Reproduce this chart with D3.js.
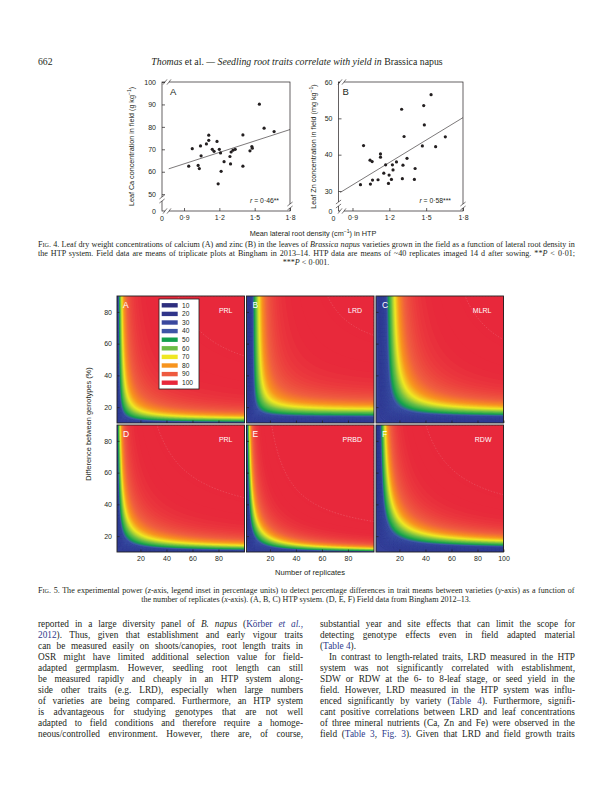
<!DOCTYPE html>
<html><head><meta charset="utf-8">
<script src="https://cdn.jsdelivr.net/npm/d3@7"></script>
<style>body{margin:0;background:#fff}svg{display:block}</style>
</head><body>
<svg id="page" width="613" height="791"></svg>
<script>
// ================= DATA =================
const pageNumber = "662";
const headerSegs = [["Thomas","i"],[" et al. "],["— Seedling root traits correlate with yield in ","i"],["Brassica napus"]];

// Fig. 4A : lateral root density (HTP) vs leaf Ca (g kg-1)
const ldA = [0.94,0.97,1.02,1.03,1.04,1.045,1.09,1.11,1.11,1.14,1.155,1.18,1.19,1.20,1.21,1.215,1.24,1.29,1.295,1.30,1.316,1.335,1.40,1.40,1.46,1.476,1.48,1.54,1.58,1.665];
const caA = [62.5,70.3,62.8,61.4,71.5,67.1,72.4,76.3,74.0,70.0,69.1,73.5,54.6,70.0,68.4,60.2,64.5,66.8,63.5,68.8,69.6,70.0,76.4,62.5,69.3,71.2,70.5,90.1,79.4,77.9];
// Fig. 4B : lateral root density (HTP) vs leaf Zn (mg kg-1)
const ldB = [0.965,0.99,1.043,1.046,1.06,1.063,1.108,1.128,1.128,1.155,1.17,1.193,1.198,1.217,1.225,1.23,1.258,1.30,1.306,1.311,1.32,1.344,1.404,1.41,1.469,1.48,1.485,1.54,1.577,1.656];
const znB = [31.75,42.5,38.5,31.9,38.1,33.0,33.1,40.2,39.3,34.9,37.2,32.1,34.4,33.2,37.2,35.8,38.0,52.5,33.4,37.1,45.0,39.0,33.2,36.2,42.4,53.5,48.2,56.5,42.2,44.9];
const fitLineA = [[0.77,61.3],[1.8,78.8]];
const fitLineB = [[0.80,29.6],[1.8,50.2]];
const xTicks4 = [0.9,1.2,1.5,1.8];
const yTicksA = [50,60,70,80,90,100];
const yTicksB = [30,40,50,60];
const rTexts = ["0·46**","0·58***"];

// Fig. 5 : experimental power surfaces
const panelIds = ["A","B","C","D","E","F"];
const traits   = ["PRL","LRD","MLRL","PRL","PRBD","RDW"];
// replicates where power reaches the yellow (70 %) band at 80 % difference
const n70AtD80 = [6.0, 11.8, 16.8, 4.8, 4.7, 9.5];
// replicates where power reaches the green (50 %) band at 80 % difference
const n50AtD80 = [4.3, 7.8, 12.8, 3.8, 3.8, 7.6];
// difference where power reaches 70 % at 90 replicates
const d70AtN90 = [13.5, 19.0, 19.2, 14.4, 12.5, 17.5];
// difference where power reaches 50 % at 90 replicates
const d50AtN90 = [11.5, 16.0, 16.0, 12.3, 11.3, 15.0];
// replicates where power reaches 70 % at 30 % difference (knee of the curve)
const n70AtD30 = [9.4, 16.2, 26.8, 10.7, 9.8, 20.5];
const legendLevels = [10,20,30,40,50,60,70,80,90,100];
const legendColors = ["#2d2e7e","#30358a","#3a489e","#3d55a6","#12a04c","#6cbd46","#efe724","#f7941e","#ee5a3f","#e8283b"];
const xTicks5 = [20,40,60,80];
const xTicks5Last = [20,40,60,80,100];
const yTicks5 = [20,40,60,80];

// body text
const leftCol = [
 [["reported in a large diversity panel of "],["B. napus","i"],[" ("],["Körber ","b"],["et al.","bi"],[",","b"]],
 [["2012","b"],["). Thus, given that establishment and early vigour traits"]],
 [["can be measured easily on shoots/canopies, root length traits in"]],
 [["OSR might have limited additional selection value for field-"]],
 [["adapted germplasm. However, seedling root length can still"]],
 [["be measured rapidly and cheaply in an HTP system along-"]],
 [["side other traits (e.g. LRD), especially when large numbers"]],
 [["of varieties are being compared. Furthermore, an HTP system"]],
 [["is advantageous for studying genotypes that are not well"]],
 [["adapted to field conditions and therefore require a homoge-"]],
 [["neous/controlled environment. However, there are, of course,"]]
];
const rightCol = [
 [["substantial year and site effects that can limit the scope for"]],
 [["detecting genotype effects even in field adapted material"]],
 [["("],["Table 4","b"],[")."]],
 [["In contrast to length-related traits, LRD measured in the HTP"]],
 [["system was not significantly correlated with establishment,"]],
 [["SDW or RDW at the 6- to 8-leaf stage, or seed yield in the"]],
 [["field. However, LRD measured in the HTP system was influ-"]],
 [["enced significantly by variety ("],["Table 4","b"],["). Furthermore, signifi-"]],
 [["cant positive correlations between LRD and leaf concentrations"]],
 [["of three mineral nutrients (Ca, Zn and Fe) were observed in the"]],
 [["field ("],["Table 3","b"],[", "],["Fig. 3","b"],["). Given that LRD and field growth traits"]]
];
const rightColJustify = [true,true,false,true,true,true,true,true,true,true,true];
const rightColIndent  = [0,0,0,9,0,0,0,0,0,0,0];

// ================= DRAWING =================
const svg = d3.select("#page");
const SERIF = "'Liberation Serif','Times New Roman',serif";
const SANS  = "'Liberation Sans',Arial,Helvetica,sans-serif";
const INK = "#231f20", BLUE = "#2e3a8c";

function rich(parent, x, y, segs, o){
  const t = parent.append("text").attr("x",x).attr("y",y)
    .attr("font-family",o.family||SERIF).attr("font-size",o.size)
    .attr("text-anchor",o.anchor||"start").attr("fill",INK);
  segs.forEach(s=>{
    const txt=s[0], st=s[1]||"";
    const ts=t.append("tspan").text(txt);
    if(st.includes("i")) ts.attr("font-style","italic");
    if(st.includes("b")) ts.attr("fill",BLUE);
    if(st.includes("s")) ts.attr("font-size",o.size*0.76);
    if(st.includes("u")) ts.attr("font-size",o.size*0.7).attr("baseline-shift","super");
  });
  if(o.width){
    const nat=t.node().getComputedTextLength();
    const n=(t.text().match(/ /g)||[]).length;
    if(n>0) t.style("word-spacing",((o.width-nat)/n)+"px");
  }
  return t;
}

// ---- header
svg.append("text").attr("x",38).attr("y",65).attr("font-family",SERIF).attr("font-size",9.7).attr("fill",INK).text(pageNumber);
rich(svg,297,65,headerSegs,{size:9.8,anchor:"middle"});

// ---- Fig 4
const fmt4 = v => d3.format(".1f")(v).replace(".","·");
function scatter(cfg){
  const g = svg.append("g");
  const xs = d3.scaleLinear().domain(cfg.xDom).range([cfg.x0,cfg.x1]);
  const ys = d3.scaleLinear().domain(cfg.yDom).range([cfg.y1,cfg.y0]);
  g.append("rect").attr("x",cfg.x0).attr("y",cfg.y0).attr("width",cfg.x1-cfg.x0).attr("height",cfg.y1-cfg.y0)
    .attr("fill","none").attr("stroke",INK).attr("stroke-width",0.7);
  const ay = g.append("g").attr("transform",`translate(${cfg.x0},0)`)
    .call(d3.axisLeft(ys).tickValues(cfg.yTicks).tickSize(-3).tickPadding(6).tickFormat(d3.format("d")));
  const ax = g.append("g").attr("transform",`translate(0,${cfg.y1})`)
    .call(d3.axisBottom(xs).tickValues(xTicks4).tickSize(-3).tickPadding(4).tickFormat(fmt4));
  [ay,ax].forEach(a=>{a.select(".domain").remove();
    a.selectAll("line").attr("stroke",INK).attr("stroke-width",0.7);
    a.selectAll("text").attr("font-family",SANS).attr("font-size",7).attr("fill",INK);});
  g.append("text").attr("x",cfg.x0-6).attr("y",cfg.y1+2.5).attr("text-anchor","end").attr("font-family",SANS).attr("font-size",7).attr("fill",INK).text("0");
  g.append("text").attr("x",cfg.x0+cfg.zeroDx).attr("y",cfg.y1+9.6).attr("text-anchor","middle").attr("font-family",SANS).attr("font-size",7).attr("fill",INK).text("0");
  function vbreak(x,y){ g.append("rect").attr("x",x-1).attr("y",y-2).attr("width",2).attr("height",4).attr("fill","#fff");
    [y-2,y+2].forEach(yy=>g.append("line").attr("x1",x-2.6).attr("y1",yy+2).attr("x2",x+2.6).attr("y2",yy-2).attr("stroke",INK).attr("stroke-width",0.6)); }
  function hbreak(x,y){ g.append("rect").attr("x",x-2).attr("y",y-1).attr("width",4).attr("height",2).attr("fill","#fff");
    [x-2,x+2].forEach(xx=>g.append("line").attr("x1",xx-2).attr("y1",y+2.6).attr("x2",xx+2).attr("y2",y-2.6).attr("stroke",INK).attr("stroke-width",0.6)); }
  vbreak(cfg.x0,cfg.yBreakL); vbreak(cfg.x1,cfg.yBreakR);
  hbreak(cfg.xBreak,cfg.y0); hbreak(cfg.xBreak,cfg.y1);
  g.append("line").attr("x1",xs(cfg.fit[0][0])).attr("y1",ys(cfg.fit[0][1])).attr("x2",xs(cfg.fit[1][0])).attr("y2",ys(cfg.fit[1][1]))
    .attr("stroke",INK).attr("stroke-width",0.6);
  g.selectAll("circle.pt").data(cfg.xv.map((v,i)=>[v,cfg.yv[i]])).join("circle")
    .attr("cx",d=>xs(d[0])).attr("cy",d=>ys(d[1])).attr("r",1.6).attr("fill",INK);
  g.append("text").attr("x",cfg.x0+cfg.letterDx).attr("y",cfg.y0+13).attr("font-family",SANS).attr("font-size",9.5).attr("fill",INK).text(cfg.letter);
  rich(g,cfg.x1-cfg.rDx,cfg.y1-8,[["r","i"],[" = "+cfg.r]],{family:SANS,size:6.8,anchor:"end"});
  const yt = g.append("g").attr("transform",`translate(${cfg.ylabX},${(cfg.y0+cfg.y1)/2}) rotate(-90)`);
  rich(yt,0,0,cfg.ylab,{family:SANS,size:7.2,anchor:"middle"});
}
scatter({x0:162,x1:290,y0:82,y1:211,xDom:[0.713,1.8],yDom:[42.5,100],xv:ldA,yv:caA,fit:fitLineA,yTicks:yTicksA,
  letter:"A",letterDx:8,r:rTexts[0],rDx:11,ylabX:134,zeroDx:0,yBreakL:199,yBreakR:206,xBreak:167,
  ylab:[["Leaf Ca concentration  in field (g kg"],["−1","u"],[")"]]});
scatter({x0:338.5,x1:463,y0:82,y1:211,xDom:[0.786,1.8],yDom:[24.5,60],xv:ldB,yv:znB,fit:fitLineB,yTicks:yTicksB,
  letter:"B",letterDx:4,r:rTexts[1],rDx:12,ylabX:316,zeroDx:-5,yBreakL:204,yBreakR:206,xBreak:342,
  ylab:[["Leaf Zn concentration in field (mg kg"],["−1","u"],[")"]]});
rich(svg,313,236,[["Mean lateral root density (cm"],["−1","u"],[") in HTP"]],{family:SANS,size:7.3,anchor:"middle"});

// Fig 4 caption
const CAP = 8.1;
rich(svg,38,246.5,[["F"],["IG","s"],[". 4.  Leaf dry weight concentrations of calcium (A) and zinc (B) in the leaves of "],["Brassica napus","i"],[" varieties grown in the field as a function of lateral root density in"]],{size:CAP,width:537});
rich(svg,38,255.5,[["the HTP system. Field data are means of triplicate plots at Bingham in 2013–14. HTP data are means of ~40 replicates imaged 14 d after sowing. **"],["P","i"],[" < 0·01;"]],{size:CAP,width:537});
rich(svg,306,264.5,[["***"],["P","i"],[" < 0·001."]],{size:CAP,anchor:"middle"});

// ---- Fig 5
const N0 = 1, D0 = 8, Z70 = 0.5244;
const nDom=[2,100], dDom=[10,90];
const NX=160, NY=160;
const colX=[117,246.5,376], rowY=[296,425], PW=127.5, PH=127;

function erf(x){const s=Math.sign(x);x=Math.abs(x);const t=1/(1+0.3275911*x);
  const y=1-(((((1.061405429*t-1.453152027)*t)+1.421413741)*t-0.284496736)*t+0.254829592)*t*Math.exp(-x*x);return s*y;}
const Phi = z => 0.5*(1+erf(z/Math.SQRT2));
function fitPanel(i){
  const nv=n70AtD80[i]-N0, dh=d70AtN90[i]-D0, nk=n70AtD30[i]-N0;
  let best=null;
  for(let p=0.2;p<=4.0001;p+=0.01){
    const u1=Math.pow(nv,-p), v1=Math.pow(80-D0,-p), u2=Math.pow(90-N0,-p), v2=Math.pow(dh,-p);
    const det=u1*v2-u2*v1; const al=(v2-v1)/det, be=(u1-u2)/det;
    if(!(al>0&&be>0)) continue;
    const r=Math.abs(Math.log(al*Math.pow(nk,-p)+be*Math.pow(30-D0,-p)));
    if(!best||r<best.r) best={p,al,be,r};
  }
  const gV=Z70/Math.log(nv/(n50AtD80[i]-N0)), gH=Z70/Math.log(dh/(d50AtN90[i]-D0));
  best.g=Math.sqrt(gV*gH);
  return best;
}
function power(m,n,d){const F=m.al*Math.pow(n-N0,-m.p)+m.be*Math.pow(d-D0,-m.p);return Phi(-(m.g/m.p)*Math.log(F)+Z70);}
const powerColor = d3.scaleLinear()
  .domain([0,0.25,0.42,0.5,0.6,0.7,0.78,0.86,0.92,0.97,1])
  .range(["#35409a","#3a4ba2","#3f58aa","#13a24c","#6ebf46","#f1e823","#f7941e","#ef5d3f","#ec3f3e","#e8293b","#e8283b"]).clamp(true);

const defs = svg.append("defs");
panelIds.forEach((id,i)=>{
  const c=i%3, r=Math.floor(i/3), x0=colX[c], y0=rowY[r];
  const xs=d3.scaleLinear().domain(nDom).range([x0,x0+PW]);
  const ys=d3.scaleLinear().domain(dDom).range([y0+PH,y0]);
  const m=fitPanel(i);
  const vals=new Float64Array(NX*NY);
  for(let j=0;j<NY;j++){const d=dDom[0]+(j+0.5)/NY*(dDom[1]-dDom[0]);
    for(let k=0;k<NX;k++){const n=nDom[0]+(k+0.5)/NX*(nDom[1]-nDom[0]); vals[j*NX+k]=power(m,n,d);}}
  const thr=d3.range(0,1.0001,0.01);
  const cs=d3.contours().size([NX,NY]).thresholds(thr)(vals);
  const path=d3.geoPath(d3.geoTransform({point(px,py){
    this.stream.point(xs(nDom[0]+px/NX*(nDom[1]-nDom[0])), ys(dDom[0]+py/NY*(dDom[1]-dDom[0])));}}));
  defs.append("clipPath").attr("id","cp"+id).append("rect").attr("x",x0).attr("y",y0).attr("width",PW).attr("height",PH);
  const g=svg.append("g").attr("clip-path",`url(#cp${id})`);
  g.selectAll("path.band").data(cs).join("path").attr("d",path)
    .attr("fill",d=>powerColor(d.value+0.005))
    .attr("stroke",d=>d.value>0&&d.value<0.42&&Math.round(d.value*100)%2===0?"#2b3286":"none")
    .attr("stroke-width",0.35).attr("stroke-opacity",0.7);
  const hi=d3.contours().size([NX,NY]).thresholds([0.992])(vals);
  g.selectAll("path.hi").data(hi).join("path").attr("d",path).attr("fill","none")
    .attr("stroke","#f3a0a6").attr("stroke-width",0.5).attr("stroke-dasharray","1.5,1.5").attr("opacity",0.55);
  svg.append("rect").attr("x",x0).attr("y",y0).attr("width",PW).attr("height",PH).attr("fill","none").attr("stroke",INK).attr("stroke-width",0.9);
  const ay=svg.append("g").attr("transform",`translate(${x0},0)`)
    .call(d3.axisLeft(ys).tickValues(yTicks5).tickSize(-2.5).tickPadding(5).tickFormat(c===0?d3.format("d"):()=>""));
  const ax=svg.append("g").attr("transform",`translate(0,${y0+PH})`)
    .call(d3.axisBottom(xs).tickValues(c===2?xTicks5Last:xTicks5).tickSize(-2.5).tickPadding(4).tickFormat(r===1?d3.format("d"):()=>""));
  [ay,ax].forEach(a=>{a.select(".domain").remove();
    a.selectAll("line").attr("stroke",INK).attr("stroke-width",0.7);
    a.selectAll("text").attr("font-family",SANS).attr("font-size",7).attr("fill",INK);});
  svg.append("text").attr("x",x0+6).attr("y",y0+11.5).attr("font-family",SANS).attr("font-size",8.5).attr("fill","#fff").text(id);
  svg.append("text").attr("x",x0+PW-12).attr("y",y0+16.5).attr("text-anchor","end").attr("font-family",SANS).attr("font-size",7).attr("fill","#fff").text(traits[i]);
});
// legend
const lg=svg.append("g");
lg.append("rect").attr("x",159).attr("y",299).attr("width",40).attr("height",90).attr("fill","#fff").attr("stroke",INK).attr("stroke-width",0.8);
const ly=d3.scalePoint().domain(legendLevels).range([305.3,382.7]);
legendLevels.forEach((v,i)=>{
  lg.append("rect").attr("x",161.7).attr("y",ly(v)-2.2).attr("width",16).attr("height",4.4).attr("fill",legendColors[i]);
  lg.append("text").attr("x",182).attr("y",ly(v)+2.3).attr("font-family",SANS).attr("font-size",6.6).attr("fill",INK).text(v);
});
svg.append("g").attr("transform","translate(91,424) rotate(-90)")
  .append("text").attr("text-anchor","middle").attr("font-family",SANS).attr("font-size",7.4).attr("fill",INK).text("Difference between genotypes (%)");
svg.append("text").attr("x",310).attr("y",575).attr("text-anchor","middle").attr("font-family",SANS).attr("font-size",7.6).attr("fill",INK).text("Number of replicates");

// Fig 5 caption
rich(svg,38,592.5,[["F"],["IG","s"],[". 5.  The experimental power ("],["z","i"],["-axis, legend inset in percentage units) to detect percentage differences in trait means between varieties ("],["y","i"],["-axis) as a function of"]],{size:CAP,width:537});
rich(svg,306,601.5,[["the number of replicates ("],["x","i"],["-axis). (A, B, C) HTP system. (D, E, F) Field data from Bingham 2012–13."]],{size:CAP,anchor:"middle"});

// body text
leftCol.forEach((segs,k)=>rich(svg,38,627+11*k,segs,{size:9.3,width:265}));
rightCol.forEach((segs,k)=>rich(svg,320+rightColIndent[k],627+11*k,segs,{size:9.3,width:rightColJustify[k]?255-rightColIndent[k]:null}));
</script>
</body></html>
